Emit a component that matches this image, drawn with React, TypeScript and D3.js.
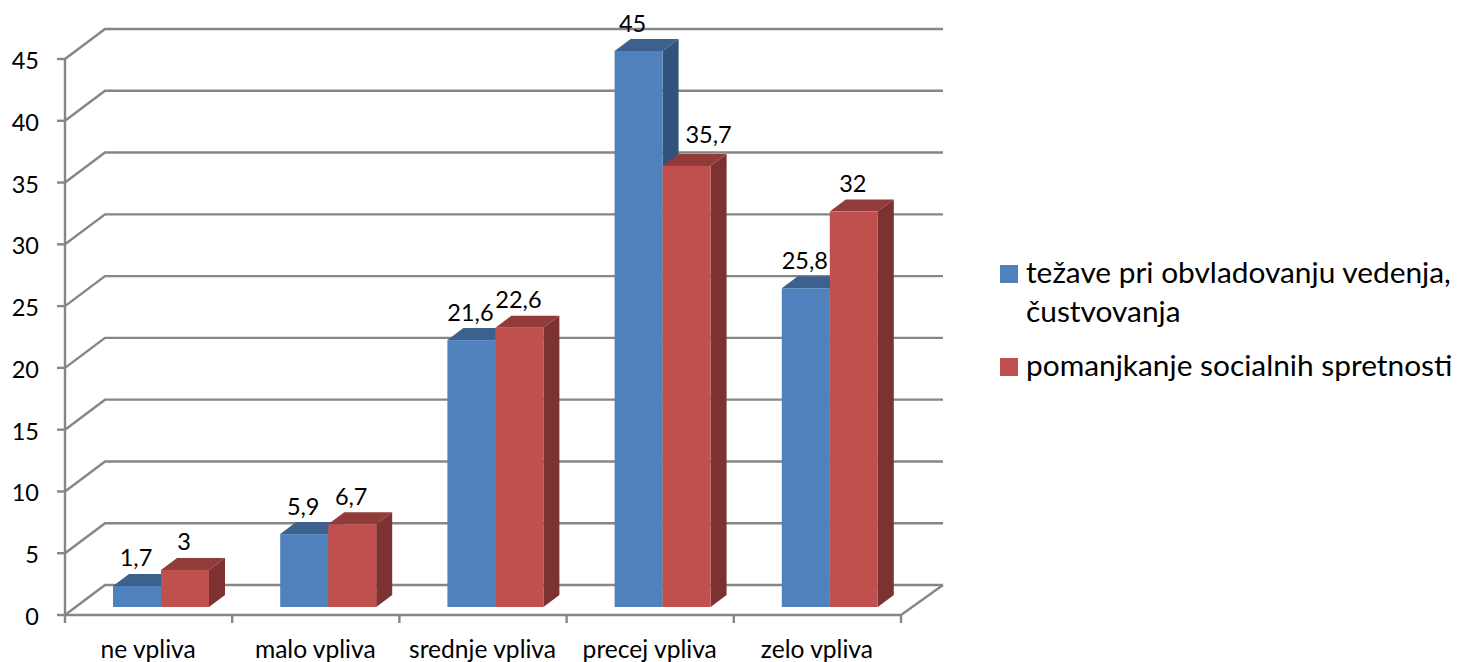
import React from "react";
import * as d3 from "d3";

const categories = ["ne vpliva", "malo vpliva", "srednje vpliva", "precej vpliva", "zelo vpliva"];
const seriesA = [1.7, 5.9, 21.6, 45, 25.8];
const seriesB = [3, 6.7, 22.6, 35.7, 32];
const labelsA = ["1,7", "5,9", "21,6", "45", "25,8"];
const labelsB = ["3", "6,7", "22,6", "35,7", "32"];
const yTicks = [0, 5, 10, 15, 20, 25, 30, 35, 40, 45];
const legendA = ["težave pri obvladovanju vedenja,", "čustvovanja"];
const legendB = ["pomanjkanje socialnih spretnosti"];

const FONT = "Lato, 'Open Sans', sans-serif";
const GRID = "#868686";
const DX = 40, DY = -30;
const y = d3.scaleLinear().domain([0, 45]).range([615, 59]);
const x = d3.scaleBand<string>().domain(categories).range([65, 901]);
const BAR_W = 48, BAR_DX = 16, BAR_DY = -12, BAR_IN = 48, BAR_LIFT = 8;

const palette = [
  { front: "#4f81bd", top: "#3c618f", side: "#31527a" },
  { front: "#c0504d", top: "#913c3a", side: "#7b3230" },
];

function Bar({ cat, v, s }: { cat: string; v: number; s: number }) {
  const c = palette[s];
  const x0 = x(cat)! + BAR_IN + s * BAR_W;
  const x1 = x0 + BAR_W;
  const y0 = y(0) - BAR_LIFT;
  const y1 = y(v) - BAR_LIFT;
  const pts = (p: number[][]) => p.map((q) => q.join(",")).join(" ");
  return (
    <g>
      <polygon fill={c.top} points={pts([[x0, y1], [x1, y1], [x1 + BAR_DX, y1 + BAR_DY], [x0 + BAR_DX, y1 + BAR_DY]])} />
      <polygon fill={c.side} points={pts([[x1, y1], [x1 + BAR_DX, y1 + BAR_DY], [x1 + BAR_DX, y0 + BAR_DY], [x1, y0]])} />
      <rect x={x0} y={y1} width={BAR_W} height={y0 - y1} fill={c.front} />
    </g>
  );
}

function Label({ cat, v, s, text }: { cat: string; v: number; s: number; text: string }) {
  // two labels sit moved from their bars in the source chart
  const shift = text === "35,7" ? 23 : text === "45" ? -5 : 0;
  const lift = text === "35,7" ? 23 : 19.5;
  const cx = x(cat)! + BAR_IN + s * BAR_W + BAR_W / 2 - 1 + shift;
  return (
    <text x={cx} y={y(v) - BAR_LIFT - lift} textAnchor="middle" fontSize={23.5} fontFamily={FONT} fill="#000">
      {text}
    </text>
  );
}

export default function App() {
  const x0 = 65, x1 = 901;
  return (
    <svg width={1457} height={662} style={{ position: "absolute", left: 0, top: 0 }}>
      <rect width={1457} height={662} fill="#fff" />
      {yTicks.map((t) => (
        <g key={t} stroke={GRID} strokeWidth={2.4} fill="none">
          <polyline points={`${x0},${y(t)} ${x0 + DX},${y(t) + DY} ${x1 + DX + 2},${y(t) + DY}`} />
          <line x1={x0 - 8} x2={x0} y1={y(t)} y2={y(t)} />
        </g>
      ))}
      <g stroke={GRID} strokeWidth={2.4} fill="none">
        <line x1={x0} x2={x0} y1={y(45)} y2={y(0)} />
        <line x1={x0} x2={x1} y1={y(0)} y2={y(0)} />
        <line x1={x1} y1={y(0)} x2={x1 + DX + 2} y2={y(0) + DY} />
        {[...categories.map((c) => x(c)!), x1].map((p, i) => (
          <line key={i} x1={p} x2={p} y1={y(0)} y2={y(0) + 8} />
        ))}
      </g>
      {categories.map((c, i) => (
        <g key={c}>
          <Bar cat={c} v={seriesA[i]} s={0} />
          <Bar cat={c} v={seriesB[i]} s={1} />
        </g>
      ))}
      {categories.map((c, i) => (
        <g key={c}>
          <Label cat={c} v={seriesA[i]} s={0} text={labelsA[i]} />
          <Label cat={c} v={seriesB[i]} s={1} text={labelsB[i]} />
        </g>
      ))}
      {yTicks.map((t) => (
        <text key={t} x={39} y={y(t) + 10} textAnchor="end" fontSize={23.5} fontFamily={FONT} fill="#000">{t}</text>
      ))}
      {categories.map((c) => (
        <text key={c} x={x(c)! + x.bandwidth() / 2 - 0.5} y={658} textAnchor="middle" fontSize={24.6} fontFamily={FONT} fill="#000">{c}</text>
      ))}
      <rect x={1000} y={265} width={18} height={18} fill={palette[0].front} />
      {legendA.map((l, i) => (
        <text key={l} x={1026} y={283 + i * 39} fontSize={29.85} fontFamily={FONT} fill="#000">{l}</text>
      ))}
      <rect x={1000} y={358} width={18} height={18} fill={palette[1].front} />
      {legendB.map((l) => (
        <text key={l} x={1026} y={376} fontSize={29.85} fontFamily={FONT} fill="#000">{l}</text>
      ))}
    </svg>
  );
}
